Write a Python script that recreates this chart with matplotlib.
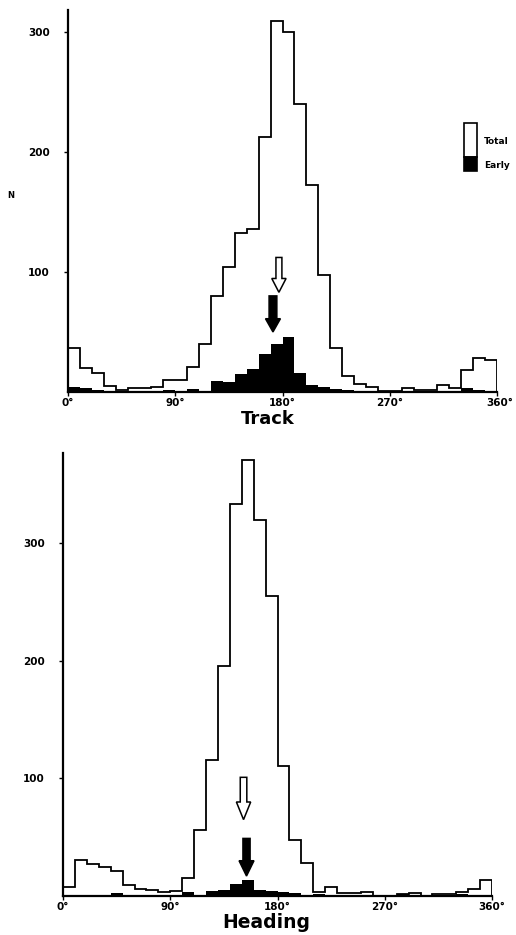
import numpy as np
import matplotlib
matplotlib.use("Agg")
import matplotlib.pyplot as plt
from matplotlib.patches import FancyArrow, Rectangle
import matplotlib.transforms as mtransforms

plt.rcParams['font.family'] = ['DejaVu Sans']
plt.rcParams['font.weight'] = 'bold'

# ---------------- data (10-degree bins, 0..360) ----------------
bin_edges = np.arange(0, 361, 10)

track_total = [37, 20, 16, 5, 2, 3, 3.5, 4.5, 10, 10,
               21, 40, 80, 104, 132, 136, 212, 309, 300, 240,
               172, 97, 37, 13, 7, 4.5, 1, 1, 3.5, 1.5,
               1.5, 6, 3, 18, 28.5, 26.5]
track_early = [4, 3.5, 1.5, 1, 0.8, 0.5, 0.5, 0.5, 1.5, 1,
               2.5, 1, 9, 8, 15, 19, 32, 40, 46, 16,
               6, 4, 2.5, 1.5, 0.8, 0.5, 0.3, 0.3, 0.3, 0.3,
               0.3, 0.3, 1, 3, 1.5, 0]

heading_total = [7.5, 30.5, 27, 24.5, 21, 9, 6, 5, 3, 4,
                 15, 56, 116, 196, 334, 371, 320, 255, 111, 48,
                 28, 3.7, 7.5, 2.5, 2.5, 3.8, 0.3, 0.3, 1.5, 2.8,
                 0.3, 1.5, 1.5, 3.7, 5.7, 13.6]
heading_early = [0.5, 0.5, 0.5, 0.5, 2.5, 0.3, 0.3, 0.3, 0.3, 0.3,
                 3, 0.5, 4, 5, 10, 14, 5.5, 4.5, 3, 2.5,
                 0.3, 2, 0.5, 0.3, 0.3, 0.3, 0.3, 0.3, 1.5, 0.3,
                 0.3, 0.3, 0.3, 1.5, 0.3, 0]

# mean directions marked by arrows (degrees)
track_mean_total = 177
track_mean_early = 172
heading_mean_total = 151.5
heading_mean_early = 154

x_ticks = [0, 90, 180, 270, 360]
x_ticklabels = ["0°", "90°", "180°", "270°", "360°"]
y_ticks = [100, 200, 300]

W, H = 516, 935
fig = plt.figure(figsize=(W / 100, H / 100), dpi=100)


def px_axes(left, right, top, bottom):
    return fig.add_axes([left / W, 1 - bottom / H, (right - left) / W, (bottom - top) / H])


def style(ax, ymax):
    ax.set_xlim(0, 360)
    ax.set_ylim(0, ymax)
    for s in ("top", "right"):
        ax.spines[s].set_visible(False)
    ax.spines["left"].set_linewidth(1.6)
    ax.spines["bottom"].set_linewidth(1.6)
    ax.set_xticks(x_ticks)
    ax.set_xticklabels(x_ticklabels)
    ax.set_yticks(y_ticks)
    ax.tick_params(axis="both", direction="out", length=3, width=1,
                   labelsize=7.5)
    ax.tick_params(axis="y", pad=10)
    ax.tick_params(axis="x", pad=1.5)
    for lab in ax.get_xticklabels() + ax.get_yticklabels():
        lab.set_fontweight("bold")


def draw_hist(ax, total, early):
    ax.stairs(early, bin_edges, fill=True, color="black", baseline=0, zorder=2)
    ax.stairs(total, bin_edges, fill=False, color="black", linewidth=1.3,
              baseline=0, zorder=3)


def arrow(ax, x, y0, y1, shaft, hw, hl, filled):
    a = FancyArrow(x, y0, 0, y1 - y0, width=shaft, head_width=hw, head_length=hl,
                   length_includes_head=True,
                   facecolor="black" if filled else "white",
                   edgecolor="black", linewidth=1.1, zorder=4)
    ax.add_patch(a)


# ---------------- Track ----------------
ax1 = px_axes(68, 497, 10, 392)
draw_hist(ax1, track_total, track_early)
style(ax1, 318)
arrow(ax1, track_mean_total, 112, 83, 5, 12, 11.5, False)
arrow(ax1, track_mean_early, 80, 50, 6.5, 12.5, 11, True)
# the 360° label of the upper panel sits a little to the right
lab360 = ax1.get_xticklabels()[-1]
lab360.set_transform(lab360.get_transform() +
                     mtransforms.ScaledTranslation(3 / 100, 0, fig.dpi_scale_trans))
fig.text(268 / W, 1 - 419 / H, "Track", ha="center", va="center",
         fontsize=13, fontweight="bold")
fig.text(11 / W, 1 - 196 / H, "N", ha="center", va="center",
         fontsize=6, fontweight="bold")

# legend
fig.add_artist(Rectangle((464 / W, 1 - 157 / H), 13 / W, 34 / H,
                         transform=fig.transFigure, facecolor="white",
                         edgecolor="black", linewidth=1.2))
fig.add_artist(Rectangle((464 / W, 1 - 171 / H), 13 / W, 14 / H,
                         transform=fig.transFigure, facecolor="black",
                         edgecolor="black", linewidth=1.2))
fig.text(484 / W, 1 - 142 / H, "Total", ha="left", va="center",
         fontsize=6.5, fontweight="bold")
fig.text(484 / W, 1 - 165 / H, "Early", ha="left", va="center",
         fontsize=6.5, fontweight="bold")

# ---------------- Heading ----------------
ax2 = px_axes(63, 492, 453, 896)
draw_hist(ax2, heading_total, heading_early)
style(ax2, 377)
arrow(ax2, heading_mean_total, 101, 65, 5.5, 12, 15, False)
arrow(ax2, heading_mean_early, 49, 17, 6, 12.5, 13, True)
fig.text(266 / W, 1 - 923 / H, "Heading", ha="center", va="center",
         fontsize=13.5, fontweight="bold")

fig.savefig("out.png", dpi=100)
